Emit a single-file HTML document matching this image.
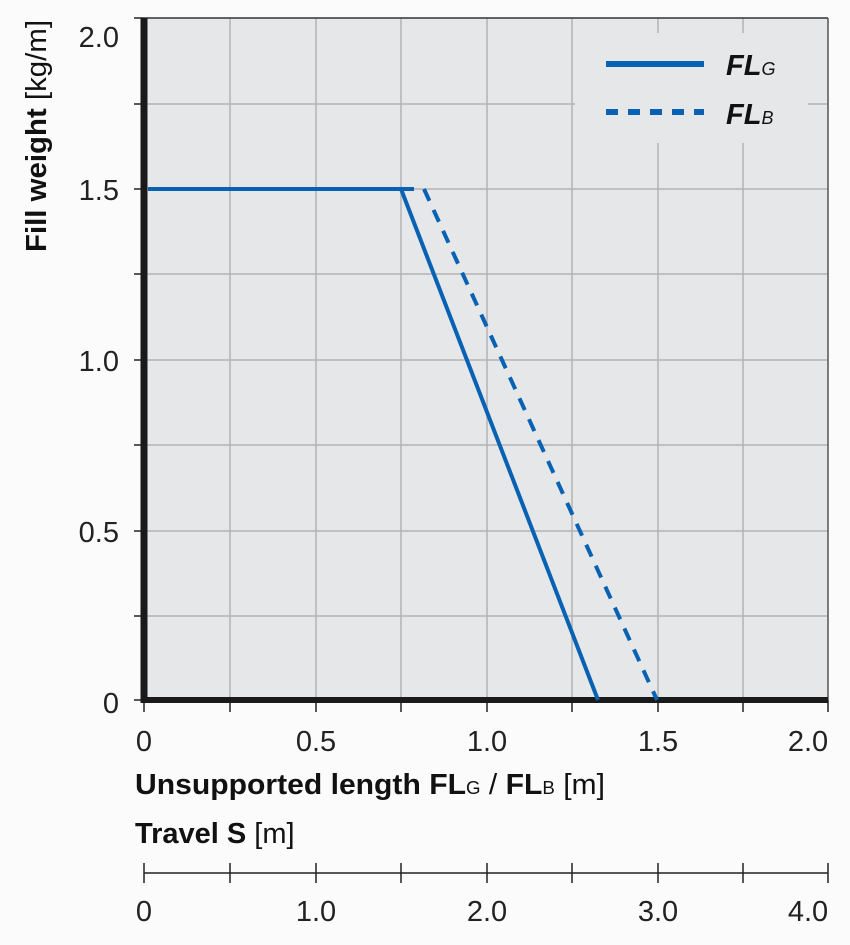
<!DOCTYPE html>
<html><head><meta charset="utf-8"><style>
html,body{margin:0;padding:0;background:#fbfbfb;}
svg{display:block;font-family:"Liberation Sans",sans-serif;}
</style></head><body>
<svg width="850" height="945" viewBox="0 0 850 945" xmlns="http://www.w3.org/2000/svg">
<rect x="0" y="0" width="850" height="945" fill="#fbfbfb"/>
<rect x="144" y="18" width="684" height="682" fill="#e6e7e9"/>
<g stroke="#b3b3b3" stroke-width="1.5">
<line x1="230" y1="18" x2="230" y2="700"/>
<line x1="316" y1="18" x2="316" y2="700"/>
<line x1="401" y1="18" x2="401" y2="700"/>
<line x1="487" y1="18" x2="487" y2="700"/>
<line x1="572" y1="18" x2="572" y2="700"/>
<line x1="658" y1="18" x2="658" y2="33"/><line x1="658" y1="143" x2="658" y2="700"/>
<line x1="743" y1="18" x2="743" y2="33"/><line x1="743" y1="143" x2="743" y2="700"/>
<line x1="144" y1="104" x2="575" y2="104"/><line x1="808" y1="104" x2="828" y2="104"/>
<line x1="144" y1="189" x2="828" y2="189"/>
<line x1="144" y1="274" x2="828" y2="274"/>
<line x1="144" y1="360" x2="828" y2="360"/>
<line x1="144" y1="445" x2="828" y2="445"/>
<line x1="144" y1="531" x2="828" y2="531"/>
<line x1="144" y1="616" x2="828" y2="616"/>
</g>
<line x1="144" y1="18" x2="828" y2="18" stroke="#333" stroke-width="1.5"/>
<line x1="828" y1="18" x2="828" y2="700" stroke="#555" stroke-width="1.5"/>
<g stroke="#222" stroke-width="1.5">
<line x1="134" y1="18" x2="144" y2="18"/><line x1="134" y1="104" x2="144" y2="104"/>
<line x1="134" y1="189" x2="144" y2="189"/><line x1="134" y1="274" x2="144" y2="274"/>
<line x1="134" y1="360" x2="144" y2="360"/><line x1="134" y1="445" x2="144" y2="445"/>
<line x1="134" y1="531" x2="144" y2="531"/><line x1="134" y1="616" x2="144" y2="616"/>
<line x1="134" y1="700" x2="144" y2="700"/>
<line x1="144" y1="700" x2="144" y2="712"/><line x1="230" y1="700" x2="230" y2="712"/>
<line x1="316" y1="700" x2="316" y2="712"/><line x1="401" y1="700" x2="401" y2="712"/>
<line x1="487" y1="700" x2="487" y2="712"/><line x1="572" y1="700" x2="572" y2="712"/>
<line x1="658" y1="700" x2="658" y2="712"/><line x1="743" y1="700" x2="743" y2="712"/>
<line x1="828" y1="700" x2="828" y2="712"/>
<line x1="144" y1="873" x2="828" y2="873"/>
<line x1="144" y1="863" x2="144" y2="883"/><line x1="230" y1="863" x2="230" y2="883"/>
<line x1="316" y1="863" x2="316" y2="883"/><line x1="401" y1="863" x2="401" y2="883"/>
<line x1="487" y1="863" x2="487" y2="883"/><line x1="572" y1="863" x2="572" y2="883"/>
<line x1="658" y1="863" x2="658" y2="883"/><line x1="743" y1="863" x2="743" y2="883"/>
<line x1="828" y1="863" x2="828" y2="883"/>
</g>
<line x1="144" y1="18" x2="144" y2="703" stroke="#1a1a1a" stroke-width="7"/>
<line x1="141" y1="700" x2="828" y2="700" stroke="#1a1a1a" stroke-width="6"/>
<g fill="none" stroke="#0862b3" stroke-width="4">
<polyline points="148,189 401,189 598,700"/>
<polyline points="401,189 424,189 657,700" stroke-dasharray="13,10"/>
<line x1="606" y1="64" x2="704" y2="64" stroke-width="6"/>
<line x1="606" y1="112" x2="704" y2="112" stroke-width="6" stroke-dasharray="12,10"/>
</g>
<g font-size="29" font-style="italic" font-weight="bold" fill="#111">
<text x="726" y="75">FL<tspan font-size="18" font-weight="normal">G</tspan></text>
<text x="726" y="124">FL<tspan font-size="18" font-weight="normal">B</tspan></text>
</g>
<g font-size="29" fill="#222" text-anchor="end">
<text x="119" y="47">2.0</text><text x="119" y="200">1.5</text>
<text x="119" y="371">1.0</text><text x="119" y="542">0.5</text>
<text x="119" y="713">0</text>
</g>
<g font-size="29" fill="#222" text-anchor="middle">
<text x="144" y="751">0</text><text x="316" y="751">0.5</text><text x="487" y="751">1.0</text>
<text x="658" y="751">1.5</text><text x="808" y="751">2.0</text>
<text x="144" y="921">0</text><text x="316" y="921">1.0</text><text x="487" y="921">2.0</text>
<text x="658" y="921">3.0</text><text x="808" y="921">4.0</text>
</g>
<text transform="translate(46,252) rotate(-90)" font-size="29" fill="#111" textLength="232" lengthAdjust="spacingAndGlyphs"><tspan font-weight="bold">Fill weight</tspan> [kg/m]</text>
<text x="135" y="794" font-size="29" fill="#111" textLength="470" lengthAdjust="spacingAndGlyphs"><tspan font-weight="bold">Unsupported length FL</tspan><tspan font-size="18">G</tspan> / <tspan font-weight="bold">FL</tspan><tspan font-size="18">B</tspan> [m]</text>
<text x="135" y="843" font-size="29" fill="#111"><tspan font-weight="bold">Travel S</tspan> [m]</text>
</svg>
</body></html>
